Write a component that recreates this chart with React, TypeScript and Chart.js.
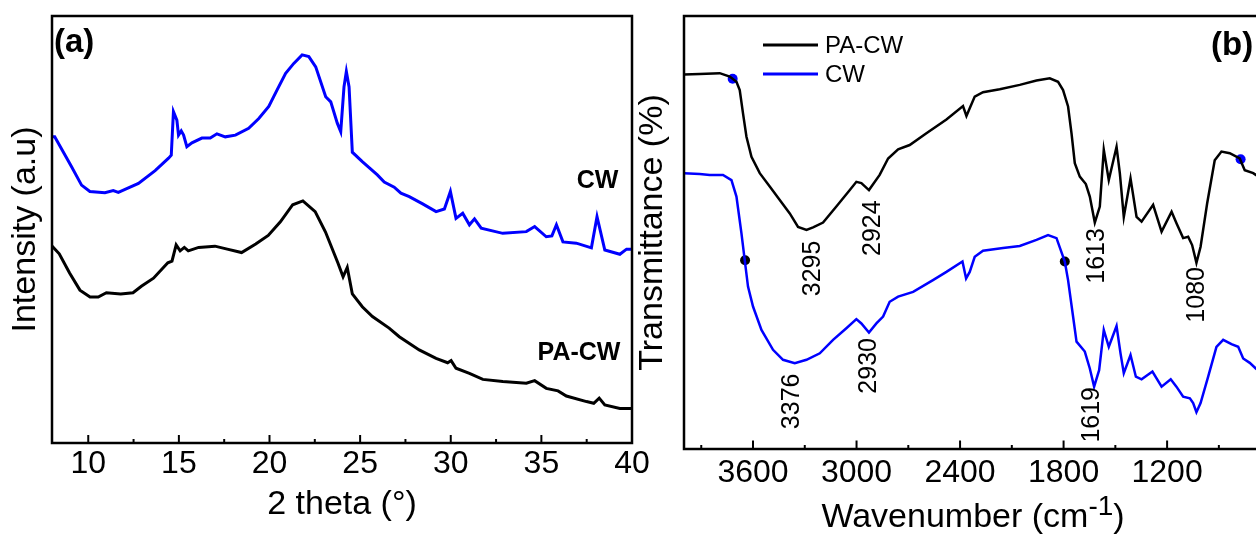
import React, { useEffect, useRef } from 'react';
import { Chart, registerables } from 'chart.js';

Chart.register(...registerables);

const FONT = "'Liberation Sans', Arial, Helvetica, sans-serif";

// ---------- (a) XRD ----------
const cwTheta = [8.0, 8.15, 9.08, 9.63, 10.09, 10.92, 11.38, 11.66, 12.03, 12.77, 13.69, 14.43, 14.58, 14.7, 14.89, 14.98, 15.13, 15.26, 15.44, 15.72, 16.27, 16.73, 17.1, 17.56, 18.12, 18.85, 19.41, 19.96, 20.42, 20.89, 21.34, 21.8, 22.17, 22.55, 23.1, 23.38, 23.74, 23.93, 24.11, 24.24, 24.39, 24.57, 25.12, 25.95, 26.33, 26.88, 27.25, 27.71, 28.45, 29.19, 29.65, 29.98, 30.29, 30.66, 31.03, 31.31, 31.68, 32.87, 34.17, 34.63, 35.27, 35.58, 35.83, 36.19, 36.93, 37.76, 38.07, 38.5, 39.33, 39.7, 40.0];
const cwIntensity = [71.7, 71.7, 64.7, 60.4, 58.9, 58.6, 59.1, 58.7, 59.4, 60.8, 63.8, 66.7, 67.4, 77.6, 75.6, 72.1, 73.1, 72.1, 69.4, 70.3, 71.4, 71.4, 72.4, 71.7, 72.1, 73.7, 76.0, 78.8, 82.7, 86.6, 88.9, 90.9, 90.5, 88.1, 81.1, 79.9, 74.9, 72.9, 83.4, 87.0, 83.4, 68.1, 65.9, 62.8, 61.1, 59.9, 58.5, 57.7, 56.0, 54.2, 54.8, 58.9, 52.6, 53.8, 51.1, 52.5, 50.3, 49.1, 49.5, 50.7, 48.3, 48.5, 51.1, 47.1, 46.8, 45.7, 53.0, 45.2, 44.2, 45.4, 45.4];

const pacwTheta = [8.0, 8.4, 8.97, 9.54, 10.1, 10.55, 11.0, 11.79, 12.47, 12.93, 13.6, 14.39, 14.62, 14.85, 15.07, 15.3, 15.52, 16.09, 16.99, 17.67, 18.46, 19.24, 19.93, 20.6, 21.28, 21.84, 22.52, 23.09, 23.77, 24.06, 24.29, 24.57, 25.12, 25.68, 26.6, 27.16, 28.26, 29.19, 29.83, 30.02, 30.29, 31.03, 31.77, 32.87, 34.17, 34.63, 35.27, 35.92, 36.38, 37.49, 37.89, 38.19, 38.5, 39.33, 40.0];
const pacwIntensity = [46.1, 44.3, 39.8, 35.8, 34.2, 34.2, 35.2, 34.9, 35.2, 36.7, 38.6, 42.2, 42.6, 46.4, 45.0, 45.8, 45.0, 45.8, 46.1, 45.4, 44.6, 46.6, 48.6, 51.8, 55.8, 56.7, 54.2, 49.4, 42.2, 38.9, 41.1, 34.9, 31.9, 29.6, 26.9, 24.9, 21.8, 19.8, 18.8, 19.3, 17.5, 16.3, 14.9, 14.4, 14.0, 14.6, 12.8, 12.2, 11.0, 9.7, 9.3, 10.5, 8.9, 8.1, 8.1];

const xrdSeriesNames = ['CW', 'PA-CW'];
const xrdNameTheta = [36.95, 34.79];
const xrdNameIntensity = [59.7, 19.4];

const xrdTickValues = [10, 12.5, 15, 17.5, 20, 22.5, 25, 27.5, 30, 32.5, 35, 37.5, 40];
const xrdTickLabels = ['10', '', '15', '', '20', '', '25', '', '30', '', '35', '', '40'];

// ---------- (b) FTIR ----------
const pacwWavenumber = [4000, 3909, 3793, 3735, 3696, 3677, 3658, 3638, 3609, 3561, 3503, 3445, 3387, 3339, 3290, 3252, 3194, 3117, 3039, 3001, 2972, 2928, 2866, 2817, 2759, 2692, 2595, 2479, 2383, 2363, 2344, 2315, 2267, 2170, 2054, 1957, 1880, 1832, 1803, 1774, 1754, 1735, 1706, 1671, 1648, 1619, 1590, 1567, 1538, 1493, 1474, 1451, 1412, 1377, 1348, 1281, 1232, 1174, 1145, 1107, 1078, 1055, 1030, 1006, 968, 924, 885, 837, 779, 750, 701, 686, 650];
const pacwTransmittance = [86.5, 86.6, 86.8, 86.0, 84.8, 82.9, 77.5, 72.1, 67.5, 63.7, 60.6, 57.5, 54.4, 51.3, 50.6, 51.2, 52.3, 56.0, 59.8, 61.7, 61.4, 59.8, 63.3, 67.1, 69.2, 70.2, 72.9, 76.1, 79.2, 76.9, 78.7, 81.4, 82.4, 83.1, 84.1, 85.1, 85.6, 84.8, 82.9, 79.1, 72.9, 66.0, 62.9, 61.2, 58.3, 52.3, 56.0, 69.1, 62.1, 69.8, 63.7, 53.6, 62.5, 53.6, 52.5, 56.4, 50.2, 54.8, 52.1, 48.7, 49.0, 47.1, 43.0, 46.7, 56.7, 66.7, 68.7, 68.3, 67.1, 64.4, 63.7, 63.3, 62.5];

const cwWavenumber = [4000, 3909, 3851, 3774, 3725, 3696, 3667, 3648, 3629, 3600, 3551, 3484, 3426, 3358, 3290, 3213, 3136, 3059, 3001, 2972, 2928, 2885, 2846, 2808, 2759, 2672, 2557, 2479, 2386, 2365, 2344, 2315, 2267, 2151, 2054, 1957, 1890, 1841, 1793, 1774, 1745, 1725, 1677, 1648, 1623, 1594, 1567, 1538, 1493, 1470, 1451, 1412, 1381, 1348, 1285, 1232, 1179, 1146, 1107, 1068, 1049, 1030, 1006, 962, 914, 875, 827, 788, 759, 721, 686, 650];
const cwTransmittance = [63.7, 63.5, 63.3, 63.3, 62.1, 58.3, 49.8, 43.6, 37.5, 32.9, 27.5, 22.9, 20.6, 19.8, 20.6, 22.1, 25.2, 27.9, 30.0, 29.0, 26.9, 29.0, 30.6, 34.0, 35.2, 36.3, 39.0, 40.9, 43.3, 39.4, 40.9, 44.4, 45.8, 46.4, 46.9, 48.3, 49.4, 48.7, 43.3, 39.0, 30.6, 24.8, 22.5, 18.6, 14.4, 18.2, 27.5, 23.6, 28.4, 22.1, 17.5, 21.7, 16.7, 16.1, 17.9, 14.4, 16.1, 14.4, 12.1, 11.7, 10.6, 8.5, 10.6, 16.7, 23.6, 25.2, 24.2, 23.6, 20.9, 19.9, 18.6, 17.5];

const pacwMarkerWn = [3718, 774];
const pacwMarkerT = [85.5, 66.9];
const cwMarkerWn = [3646, 1793];
const cwMarkerT = [43.6, 43.3];

const peakLabels = ['3295', '2924', '3376', '2930', '1613', '1080', '1619'];
const peakLabelWn = [3254, 2906, 3376, 2929, 1608, 1028, 1637];
const peakLabelT = [41.7, 51.0, 11.0, 19.2, 44.6, 35.6, 7.9];

const ftirTickValues = [3900, 3600, 3300, 3000, 2700, 2400, 2100, 1800, 1500, 1200, 900];
const ftirTickLabels = ['', '3600', '', '3000', '', '2400', '', '1800', '', '1200', ''];

const BLUE = '#0000ff';
const BLACK = '#000000';

function pts(xs: number[], ys: number[]) {
  return xs.map((x, i) => ({ x, y: ys[i] }));
}

function drawFrameAndTicks(chart: any, labels: string[], majorLen: number, minorLen: number) {
  const { ctx, chartArea: ca, scales } = chart;
  const x = scales.x;
  ctx.save();
  ctx.strokeStyle = BLACK;
  ctx.lineWidth = 2.5;
  ctx.strokeRect(ca.left, ca.top, ca.right - ca.left, ca.bottom - ca.top);
  ctx.lineWidth = 2;
  x.ticks.forEach((t: any, i: number) => {
    const px = x.getPixelForValue(t.value);
    if (px <= ca.left + 2 || px >= ca.right - 2) return;
    const len = labels[i] ? majorLen : minorLen;
    ctx.beginPath();
    ctx.moveTo(px, ca.bottom);
    ctx.lineTo(px, ca.bottom - len);
    ctx.stroke();
  });
  ctx.restore();
}

const panelAPlugin = {
  id: 'panelA',
  afterDatasetsDraw(chart: any) {
    drawFrameAndTicks(chart, xrdTickLabels, 8, 4);
    const { ctx, chartArea: ca, scales } = chart;
    ctx.save();
    ctx.fillStyle = BLACK;
    ctx.textAlign = 'left';
    ctx.textBaseline = 'alphabetic';
    ctx.font = `bold 33px ${FONT}`;
    ctx.fillText('(a)', ca.left + 2, ca.top + 36);
    ctx.font = `bold 25px ${FONT}`;
    xrdSeriesNames.forEach((name, i) => {
      ctx.fillText(name, scales.x.getPixelForValue(xrdNameTheta[i]), scales.y.getPixelForValue(xrdNameIntensity[i]));
    });
    ctx.restore();
  },
};

const panelBPlugin = {
  id: 'panelB',
  afterDatasetsDraw(chart: any) {
    drawFrameAndTicks(chart, ftirTickLabels, 8.5, 4);
    const { ctx, chartArea: ca, scales } = chart;
    ctx.save();
    ctx.fillStyle = BLACK;
    // legend
    const legendDs = chart.data.datasets.filter((d: any) => d.inLegend);
    ctx.font = `24px ${FONT}`;
    ctx.textAlign = 'left';
    ctx.textBaseline = 'middle';
    legendDs.forEach((d: any, i: number) => {
      const yy = ca.top + 29 + i * 29;
      ctx.strokeStyle = d.borderColor;
      ctx.lineWidth = 3;
      ctx.beginPath();
      ctx.moveTo(ca.left + 79, yy);
      ctx.lineTo(ca.left + 134, yy);
      ctx.stroke();
      ctx.fillStyle = BLACK;
      ctx.fillText(d.label, ca.left + 141, yy + 1);
    });
    // peak annotations (rotated)
    ctx.font = `25px ${FONT}`;
    ctx.textAlign = 'center';
    ctx.textBaseline = 'middle';
    peakLabels.forEach((lab, i) => {
      const px = scales.x.getPixelForValue(peakLabelWn[i]);
      const py = scales.y.getPixelForValue(peakLabelT[i]);
      ctx.save();
      ctx.translate(px, py);
      ctx.rotate(-Math.PI / 2);
      ctx.fillText(lab, 0, 0);
      ctx.restore();
    });
    // (b)
    ctx.font = `bold 33px ${FONT}`;
    ctx.textAlign = 'left';
    ctx.textBaseline = 'alphabetic';
    ctx.fillText('(b)', ca.left + 527, ca.top + 39);
    // x title with superscript
    const main = 'Wavenumber (cm';
    const sup = '-1';
    const close = ')';
    ctx.font = `34px ${FONT}`;
    const w1 = ctx.measureText(main).width;
    const w3 = ctx.measureText(close).width;
    ctx.font = `28px ${FONT}`;
    const w2 = ctx.measureText(sup).width;
    const total = w1 + w2 + w3;
    const cx = (ca.left + ca.right) / 2;
    let xx = cx - total / 2;
    const base = chart.height - 8.5;
    ctx.font = `34px ${FONT}`;
    ctx.fillText(main, xx, base);
    xx += w1;
    ctx.font = `28px ${FONT}`;
    ctx.fillText(sup, xx, base - 12);
    xx += w2;
    ctx.font = `34px ${FONT}`;
    ctx.fillText(close, xx, base);
    ctx.restore();
  },
};

export default function App() {
  const aRef = useRef<HTMLCanvasElement>(null);
  const bRef = useRef<HTMLCanvasElement>(null);

  useEffect(() => {
    const tickFont = { family: FONT, size: 32 };
    const titleFont = { family: FONT, size: 34 };
    const chartA = new Chart(aRef.current as HTMLCanvasElement, {
      type: 'line',
      data: {
        datasets: [
          { label: 'CW', data: pts(cwTheta, cwIntensity), borderColor: BLUE, borderWidth: 3, pointRadius: 0, tension: 0, fill: false },
          { label: 'PA-CW', data: pts(pacwTheta, pacwIntensity), borderColor: BLACK, borderWidth: 3, pointRadius: 0, tension: 0, fill: false },
        ],
      },
      options: {
        animation: false,
        responsive: false,
        events: [],
        layout: { padding: { top: 16, right: 48, left: 0, bottom: 0 } },
        plugins: { legend: { display: false }, tooltip: { enabled: false } },
        scales: {
          x: {
            type: 'linear',
            min: 8,
            max: 40,
            grid: { display: false, drawTicks: false },
            border: { display: false },
            afterBuildTicks: (s: any) => { s.ticks = xrdTickValues.map((v) => ({ value: v })); },
            ticks: {
              autoSkip: false,
              maxRotation: 0,
              padding: 2,
              color: BLACK,
              font: tickFont,
              callback: (_v: any, i: number) => xrdTickLabels[i],
            },
            title: { display: true, text: '2 theta (°)', color: BLACK, font: titleFont, padding: { top: 0, bottom: 10 } },
            afterFit: (s: any) => { s.height = 92; },
          },
          y: {
            min: 0,
            max: 100,
            grid: { display: false, drawTicks: false },
            border: { display: false },
            ticks: { display: false },
            title: { display: true, text: 'Intensity (a.u)', color: BLACK, font: titleFont, padding: { top: 5, bottom: 0 } },
            afterFit: (s: any) => { s.width = 52; },
          },
        },
      },
      plugins: [panelAPlugin],
    } as any);

    const chartB = new Chart(bRef.current as HTMLCanvasElement, {
      type: 'line',
      data: {
        datasets: [
          { label: 'PA-CW', inLegend: true, data: pts(pacwWavenumber, pacwTransmittance), borderColor: BLACK, borderWidth: 2.5, pointRadius: 0, tension: 0, fill: false },
          { label: 'CW', inLegend: true, data: pts(cwWavenumber, cwTransmittance), borderColor: BLUE, borderWidth: 2.5, pointRadius: 0, tension: 0, fill: false },
          { label: 'PA-CW markers', data: pts(pacwMarkerWn, pacwMarkerT), showLine: false, pointRadius: 5, pointBackgroundColor: BLUE, pointBorderWidth: 0, borderColor: BLUE },
          { label: 'CW markers', data: pts(cwMarkerWn, cwMarkerT), showLine: false, pointRadius: 5, pointBackgroundColor: BLACK, pointBorderWidth: 0, borderColor: BLACK },
        ],
      },
      options: {
        animation: false,
        responsive: false,
        events: [],
        layout: { padding: { top: 16, right: 58, left: 0, bottom: 0 } },
        plugins: { legend: { display: false }, tooltip: { enabled: false } },
        scales: {
          x: {
            type: 'linear',
            reverse: true,
            min: 650,
            max: 4000,
            grid: { display: false, drawTicks: false },
            border: { display: false },
            afterBuildTicks: (s: any) => { s.ticks = ftirTickValues.map((v) => ({ value: v })); },
            ticks: {
              autoSkip: false,
              maxRotation: 0,
              padding: 5,
              color: BLACK,
              font: tickFont,
              callback: (_v: any, i: number) => ftirTickLabels[i],
            },
            title: { display: false, text: 'Wavenumber (cm-1)' },
            afterFit: (s: any) => { s.height = 86; },
          },
          y: {
            min: 0,
            max: 100,
            grid: { display: false, drawTicks: false },
            border: { display: false },
            ticks: { display: false },
            title: { display: true, text: 'Transmittance (%)', color: BLACK, font: titleFont, padding: { top: 12, bottom: 0 } },
            afterFit: (s: any) => { s.width = 64; },
          },
        },
      },
      plugins: [panelBPlugin],
    } as any);

    return () => {
      chartA.destroy();
      chartB.destroy();
    };
  }, []);

  return (
    <div style={{ position: 'fixed', left: 0, top: 0, width: 1256, height: 535, overflow: 'hidden', background: '#fff' }}>
      <canvas ref={aRef} width={680} height={535} style={{ position: 'absolute', left: 0, top: 0, width: 680, height: 535 }} />
      <canvas ref={bRef} width={700} height={535} style={{ position: 'absolute', left: 620, top: 0, width: 700, height: 535 }} />
    </div>
  );
}
